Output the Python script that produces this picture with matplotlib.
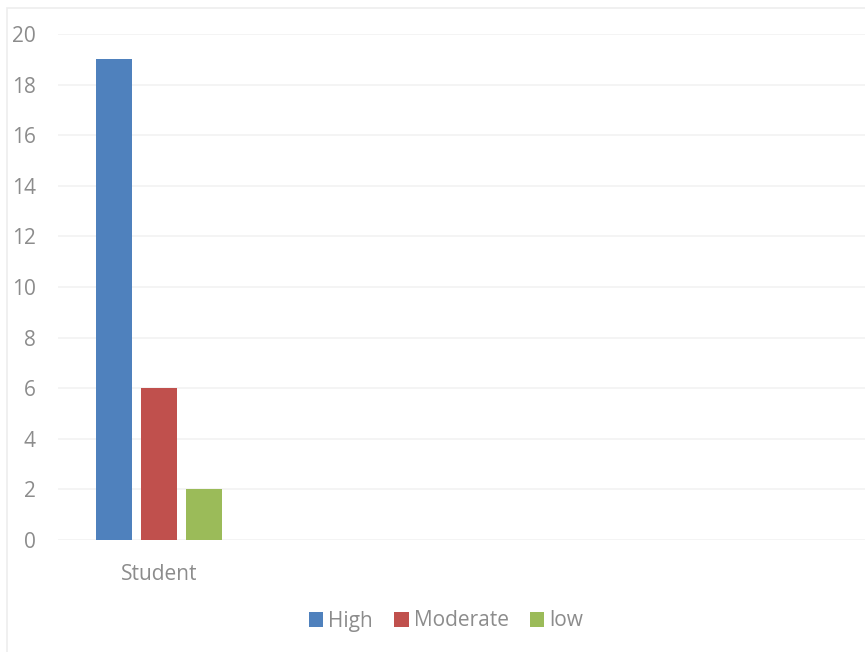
import matplotlib
matplotlib.use("Agg")
import matplotlib.pyplot as plt
from matplotlib.patches import Rectangle
import numpy as np

plt.rcParams['font.family'] = ['Open Sans', 'DejaVu Sans']

# data
categories = ["Student", "", "", ""]
series = ["High", "Moderate", "low"]
high = [19, np.nan, np.nan, np.nan]
moderate = [6, np.nan, np.nan, np.nan]
low = [2, np.nan, np.nan, np.nan]
yticks = [0, 2, 4, 6, 8, 10, 12, 14, 16, 18, 20]

colors = ["#4f81bd", "#c0504d", "#9bbb59"]
text_color = "#8c8c8c"

W, H = 865, 652
fig = plt.figure(figsize=(W / 100, H / 100), dpi=100)

# chart border
fig.patches.append(Rectangle((7 / W, -0.01), 1.0, 1 - 8 / H + 0.01, transform=fig.transFigure,
                             fill=False, edgecolor="#ededed", linewidth=1.2))

ax = fig.add_axes([58 / W, 1 - 540 / H, 808 / W, (540 - 34) / H])

x = np.arange(len(categories))
bw = 0.178
off = 0.223
for vals, c, lab, d in zip([high, moderate, low], colors, series, [-off, 0, off]):
    ax.bar(x + d, vals, width=bw, color=c, label=lab, zorder=3)

ax.set_xlim(-0.5, len(categories) - 0.5)
ax.set_ylim(0, 20)
ax.set_yticks(yticks)
ax.set_xticks(x)
ax.set_xticklabels(categories)
ax.grid(axis="y", color="#f3f3f3", linewidth=1.3, zorder=0)
for s in ax.spines.values():
    s.set_visible(False)
ax.tick_params(axis="both", length=0, colors=text_color, labelsize=15)
ax.tick_params(axis="y", pad=16)
ax.tick_params(axis="x", pad=17)

leg = fig.legend(loc="center", bbox_to_anchor=(446 / W, 1 - 621 / H), ncol=3, frameon=False,
                 fontsize=15, handlelength=0.7, handleheight=0.7, handletextpad=0.25,
                 columnspacing=1.0)
for t in leg.get_texts():
    t.set_color(text_color)

fig.savefig("out.png", dpi=100)
